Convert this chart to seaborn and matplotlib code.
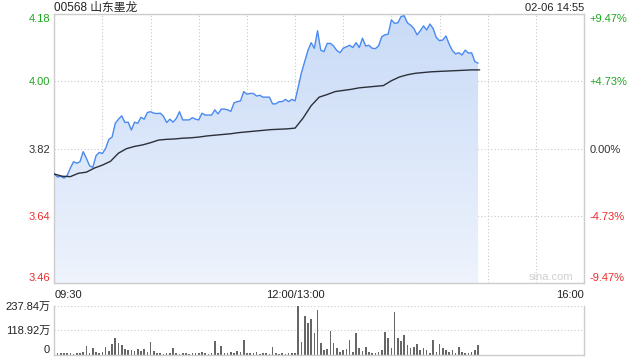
import numpy as np
import matplotlib
matplotlib.use("Agg")
import matplotlib.pyplot as plt
import seaborn as sns
from matplotlib.colors import LinearSegmentedColormap

sns.set_theme(style="white")
plt.rcParams["font.family"] = ["Liberation Sans", "Noto Sans CJK SC", "DejaVu Sans"]

# ---------------- data ----------------
title = "00568 山东墨龙"
stamp = "02-06 14:55"
pre_close = 3.82

# last price every 2 minutes of trading time from 09:30 (HK session, 330 min)
price = [3.752, 3.744, 3.746, 3.741, 3.748, 3.768, 3.785, 3.781, 3.785, 3.812,
         3.794, 3.774, 3.770, 3.801, 3.810, 3.807, 3.821, 3.845, 3.851, 3.888,
         3.899, 3.908, 3.890, 3.891, 3.870, 3.891, 3.888, 3.904, 3.899, 3.917,
         3.919, 3.915, 3.914, 3.915, 3.907, 3.890, 3.899, 3.891, 3.901, 3.919,
         3.897, 3.897, 3.897, 3.903, 3.899, 3.897, 3.915, 3.910, 3.910, 3.910,
         3.924, 3.913, 3.926, 3.926, 3.924, 3.920, 3.943, 3.946, 3.948, 3.973,
         3.966, 3.968, 3.968, 3.961, 3.963, 3.958, 3.958, 3.958, 3.940, 3.940,
         3.946, 3.946, 3.952, 3.946, 3.952, 3.948,
         3.986, 4.024, 4.053, 4.083, 4.104, 4.089, 4.136, 4.084, 4.080, 4.102,
         4.102, 4.095, 4.083, 4.077, 4.089, 4.093, 4.097, 4.091, 4.104, 4.091,
         4.116, 4.095, 4.097, 4.089, 4.088, 4.095, 4.120, 4.125, 4.127, 4.165,
         4.156, 4.157, 4.174, 4.176, 4.157, 4.151, 4.142, 4.125, 4.136, 4.149,
         4.138, 4.154, 4.142, 4.118, 4.109, 4.111, 4.122, 4.100, 4.083, 4.074,
         4.077, 4.071, 4.084, 4.076, 4.077, 4.053, 4.049]

# average price every 5 minutes
avg_price = [3.752, 3.746, 3.745, 3.754, 3.757, 3.768, 3.776, 3.786, 3.808, 3.820,
             3.826, 3.830, 3.836, 3.843, 3.845, 3.846, 3.848, 3.849, 3.851, 3.854,
             3.856, 3.858, 3.860, 3.863, 3.865, 3.867, 3.869, 3.871, 3.872, 3.873,
             3.875, 3.902, 3.935, 3.958, 3.965, 3.973, 3.976, 3.979, 3.983, 3.985,
             3.987, 3.989, 4.002, 4.012, 4.018, 4.022, 4.024, 4.026, 4.027, 4.028,
             4.029, 4.030, 4.031, 4.031]

# volume (万) every 2 minutes
volume = [30, 10, 12, 8, 10, 12, 6, 10, 8, 14,
          43, 10, 32, 14, 12, 16, 37, 20, 51, 84,
          56, 48, 30, 22, 25, 18, 28, 20, 30, 15,
          61, 20, 12, 8, 6, 8, 10, 32, 8, 6,
          8, 10, 6, 8, 12, 8, 14, 10, 6, 12,
          67, 10, 43, 8, 12, 16, 10, 20, 14, 72,
          12, 10, 8, 14, 6, 10, 8, 6, 40, 8,
          6, 10, 6, 8, 12,
          10, 237.84, 64, 185, 153, 174, 104, 217, 56, 24,
          29, 116, 56, 35, 16, 24, 29, 72, 16, 108,
          32, 19, 40, 16, 8, 8, 16, 24, 112, 80,
          32, 209, 80, 67, 96, 48, 35, 40, 51, 24,
          32, 24, 8, 72, 16, 51, 32, 24, 16, 24,
          8, 40, 16, 8, 8, 16, 24, 48]

price_ticks = [3.46, 3.64, 3.82, 4.00, 4.18]
price_labels = ["3.46", "3.64", "3.82", "4.00", "4.18"]
pct_labels = ["-9.47%", "-4.73%", "0.00%", "+4.73%", "+9.47%"]
tick_colors = ["#f02b2b", "#f02b2b", "#333333", "#1fa61f", "#1fa61f"]
time_ticks = [0, 150, 330]
time_labels = ["09:30", "12:00/13:00", "16:00"]
vol_ticks = [0, 118.92, 237.84]
vol_labels = ["0", "118.92万", "237.84万"]

t = np.arange(len(price)) * 2
t_avg = np.arange(len(avg_price)) * 5
t_vol = np.arange(len(volume)) * 2

# ---------------- figure ----------------
fig = plt.figure(figsize=(6.4, 3.6), dpi=100)
fig.patch.set_facecolor("white")
ax = fig.add_axes([54.3 / 640, 1 - 283 / 360, (584 - 54.3) / 640, (283 - 14.3) / 360])
axv = fig.add_axes([54.3 / 640, 1 - 355 / 360, (584 - 54.3) / 640, (355 - 305.5) / 360])

grid_kw = dict(color="#c8c8c8", linestyle=(0, (1, 2)), linewidth=0.8)
ymin, ymax = price_ticks[0], price_ticks[-1]

# gradient fill below price
poly = ax.fill_between(t, price, ymin, facecolor="none", linewidth=0)
cmap = LinearSegmentedColormap.from_list("fill", ["#eef3fc", "#c9dbf7"])
grad = np.linspace(0, 1, 256).reshape(-1, 1)
img = ax.imshow(grad, extent=[0, 330, ymin, ymax], aspect="auto", cmap=cmap,
                origin="lower", zorder=1)
img.set_clip_path(poly.get_paths()[0], transform=ax.transData)

sns.lineplot(x=t, y=price, ax=ax, color="#4a8af0", linewidth=1.0, estimator=None, zorder=3)
sns.lineplot(x=t_avg, y=avg_price, ax=ax, color="#2b2f3a", linewidth=1.0, estimator=None, zorder=3)

ax.set_xlim(0, 330)
ax.set_ylim(ymin, ymax)
ax.set_xticks(time_ticks)
ax.set_xticklabels(time_labels, fontsize=8, color="#222222")
ax.set_xticks(np.arange(30, 330, 30), minor=True)
xl = ax.get_xticklabels()
xl[0].set_ha("left")
xl[2].set_ha("right")
ax.set_yticks(price_ticks)
ax.set_yticklabels(price_labels, fontsize=8)
for lab, c in zip(ax.get_yticklabels(), tick_colors):
    lab.set_color(c)
ax.get_yticklabels()[0].set_va("bottom")
ax.get_yticklabels()[-1].set_va("top")
ax.tick_params(axis="both", which="both", length=0)
ax.tick_params(axis="x", pad=5)
ax.tick_params(axis="y", pad=3)
ax.grid(True, which="both", axis="x", **grid_kw)
ax.grid(True, which="major", axis="y", **grid_kw)
for s in ax.spines.values():
    s.set_color("#cccccc")
    s.set_linewidth(1)
ax.set_xlabel("")
ax.set_ylabel("")

ax2 = ax.twinx()
ax2.set_ylim(ymin, ymax)
ax2.set_yticks(price_ticks)
ax2.set_yticklabels(pct_labels, fontsize=8)
for lab, c in zip(ax2.get_yticklabels(), tick_colors):
    lab.set_color(c)
ax2.get_yticklabels()[0].set_va("bottom")
ax2.get_yticklabels()[-1].set_va("top")
ax2.tick_params(axis="y", length=0, pad=4)
ax2.grid(False)
for s in ax2.spines.values():
    s.set_visible(False)

ax.text(0.979, 0.004, "sina.com", transform=ax.transAxes, ha="right", va="bottom",
        fontsize=8, color="#d0d0d0", zorder=4)

# volume
sns.barplot(x=t_vol, y=volume, ax=axv, native_scale=True, color="#666666",
            width=0.5, errorbar=None, saturation=1, linewidth=0)
axv.set_xlim(0, 330)
axv.set_ylim(0, vol_ticks[-1])
axv.set_xticks([])
axv.set_yticks(vol_ticks)
axv.set_yticklabels(vol_labels, fontsize=8, color="#222222")
axv.get_yticklabels()[0].set_va("bottom")
axv.tick_params(axis="y", length=0, pad=3)
axv.grid(True, axis="y", **grid_kw)
axv.grid(False, axis="x")
axv.spines["top"].set_visible(False)
for k in ["left", "right", "bottom"]:
    axv.spines[k].set_color("#cccccc")
    axv.spines[k].set_linewidth(1)
axv.set_xlabel("")
axv.set_ylabel("")

fig.text(54.3 / 640, 1 - 8 / 360, title, ha="left", va="center", fontsize=8.5, color="#222222")
fig.text(584 / 640, 1 - 8 / 360, stamp, ha="right", va="center", fontsize=8, color="#222222")

fig.savefig("out.png", dpi=100, facecolor="white")
